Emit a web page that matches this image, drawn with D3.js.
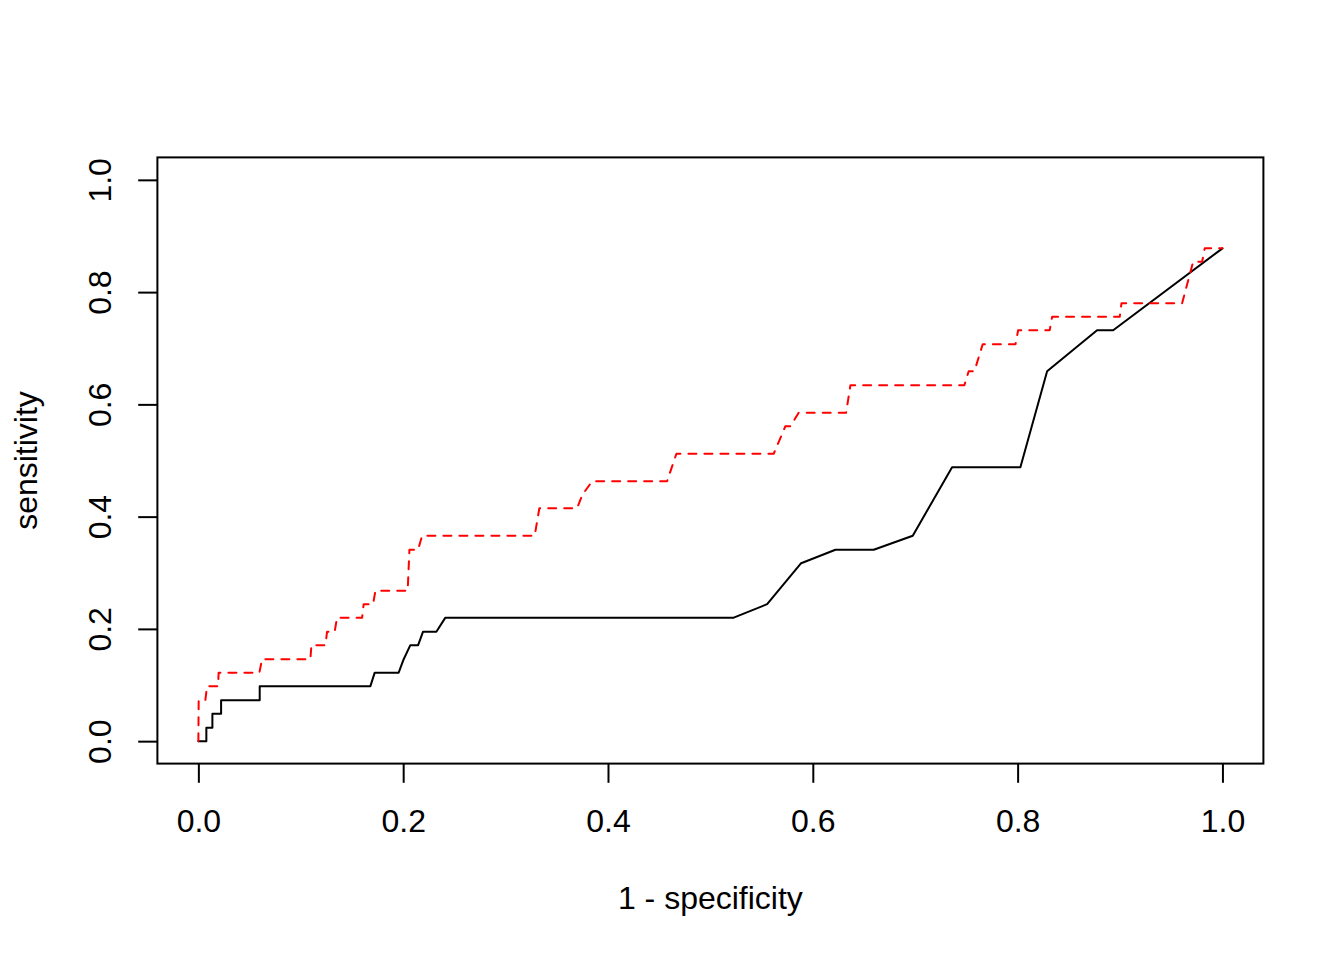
<!DOCTYPE html>
<html>
<head>
<meta charset="utf-8">
<script src="https://cdn.jsdelivr.net/npm/d3@7"></script>
<style>
  html, body { margin: 0; padding: 0; background: #fff; }
  svg { display: block; }
  text { font-family: "Liberation Sans", Arial, Helvetica, sans-serif; }
</style>
</head>
<body>
<svg id="chart" width="1344" height="960"></svg>
<script>
// ---- data ----
const blackFPR = [0, 0.0078, 0.0078, 0.0137, 0.0137, 0.0222, 0.0222, 0.0599, 0.0599, 0.1680,
  0.1722, 0.1956, 0.2005, 0.2070, 0.2146, 0.2194, 0.2324, 0.2412, 0.5228, 0.5554,
  0.5886, 0.6221, 0.6595, 0.6976, 0.7360, 0.8027, 0.8288, 0.8776, 0.8933, 1.0];
const blackTPR = [0, 0, 0.024, 0.024, 0.049, 0.049, 0.073, 0.073, 0.098, 0.098,
  0.122, 0.122, 0.146, 0.171, 0.171, 0.195, 0.195, 0.220, 0.220, 0.244,
  0.317, 0.341, 0.341, 0.366, 0.488, 0.488, 0.659, 0.732, 0.732, 0.878];

const redFPR = [0, 0.0003, 0.0068, 0.0085, 0.0192, 0.0198, 0.0596, 0.0622, 0.1094, 0.1104,
  0.1240, 0.1257, 0.1331, 0.1354, 0.1599, 0.1614, 0.1706, 0.1729, 0.2044, 0.2061,
  0.2146, 0.2185, 0.3284, 0.3330, 0.3698, 0.3750, 0.3845, 0.4577, 0.4668, 0.5618,
  0.5732, 0.5781, 0.5862, 0.6325, 0.6367, 0.7480, 0.7522, 0.7578, 0.7659, 0.7979,
  0.8005, 0.8313, 0.8337, 0.8997, 0.9014, 0.9606, 0.9714, 0.9802, 0.9827, 1.0];
const redTPR = [0, 0.073, 0.073, 0.098, 0.098, 0.122, 0.122, 0.146, 0.146, 0.171,
  0.171, 0.195, 0.195, 0.220, 0.220, 0.244, 0.244, 0.268, 0.268, 0.341,
  0.341, 0.366, 0.366, 0.415, 0.415, 0.439, 0.463, 0.463, 0.512, 0.512,
  0.561, 0.561, 0.585, 0.585, 0.634, 0.634, 0.659, 0.659, 0.707, 0.707,
  0.732, 0.732, 0.756, 0.756, 0.780, 0.780, 0.854, 0.854, 0.878, 0.878];

const xTicks = [0, 0.2, 0.4, 0.6, 0.8, 1.0];
const yTicks = [0, 0.2, 0.4, 0.6, 0.8, 1.0];
const xTitle = "1 - specificity";
const yTitle = "sensitivity";

// ---- layout ----
const svg = d3.select("#chart");
const L = 157.4, R = 1263.4, T = 157.4, B = 763.6;
const x = d3.scaleLinear().domain([-0.04, 1.04]).range([L, R]);
const y = d3.scaleLinear().domain([-0.04, 1.04]).range([B, T]);
const FS = 32;

// box
svg.append("rect")
  .attr("x", L).attr("y", T).attr("width", R - L).attr("height", B - T)
  .attr("fill", "none").attr("stroke", "#000").attr("stroke-width", 2);

// x axis
const gx = svg.append("g").attr("transform", `translate(0,${B})`)
  .call(d3.axisBottom(x).tickValues(xTicks).tickSize(19.2).tickFormat(d3.format(".1f")));
gx.select(".domain").remove();
gx.selectAll(".tick line").attr("stroke", "#000").attr("stroke-width", 2);
gx.selectAll(".tick text")
  .attr("y", 68.5).attr("dy", 0)
  .attr("font-size", FS).attr("fill", "#000")
  .attr("font-family", "Liberation Sans, Arial, sans-serif");

// y axis
const gy = svg.append("g").attr("transform", `translate(${L},0)`)
  .call(d3.axisLeft(y).tickValues(yTicks).tickSize(19.2).tickFormat(d3.format(".1f")));
gy.select(".domain").remove();
gy.selectAll(".tick line").attr("stroke", "#000").attr("stroke-width", 2);
gy.selectAll(".tick text")
  .attr("x", 0).attr("y", 0).attr("dy", 0)
  .attr("text-anchor", "middle")
  .attr("transform", `translate(${111 - L},0) rotate(-90)`)
  .attr("font-size", FS).attr("fill", "#000")
  .attr("font-family", "Liberation Sans, Arial, sans-serif");

// titles
svg.append("text")
  .attr("x", (L + R) / 2).attr("y", 908.5)
  .attr("text-anchor", "middle").attr("font-size", FS)
  .text(xTitle);
svg.append("text")
  .attr("transform", `translate(37,${(T + B) / 2}) rotate(-90)`)
  .attr("text-anchor", "middle").attr("font-size", FS)
  .text(yTitle);

// lines
const line = d3.line().x(d => x(d[0])).y(d => y(d[1]));
const clip = svg.append("g");
clip.append("path")
  .datum(d3.zip(blackFPR, blackTPR))
  .attr("d", line)
  .attr("fill", "none").attr("stroke", "#000").attr("stroke-width", 2)
  .attr("stroke-linecap", "round").attr("stroke-linejoin", "round");
clip.append("path")
  .datum(d3.zip(redFPR, redTPR))
  .attr("d", line)
  .attr("fill", "none").attr("stroke", "#ff0000").attr("stroke-width", 2)
  .attr("stroke-dasharray", "8,8")
  .attr("stroke-linecap", "round").attr("stroke-linejoin", "round");
</script>
</body>
</html>
